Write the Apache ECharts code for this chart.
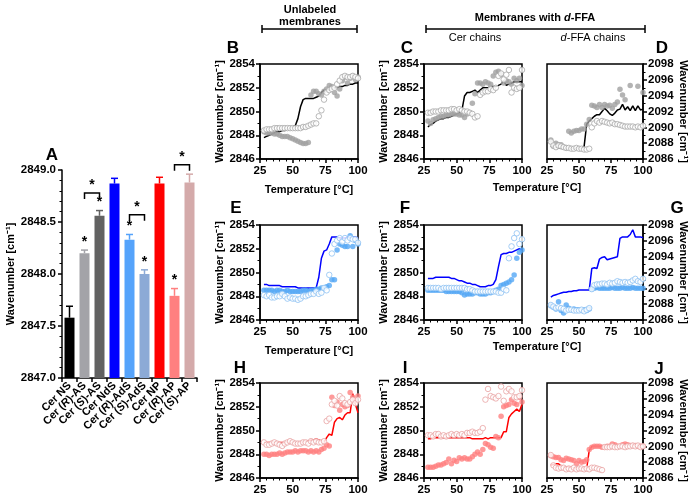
<!DOCTYPE html>
<html>
<head>
<meta charset="utf-8">
<script src="https://cdn.jsdelivr.net/npm/echarts@6/dist/echarts.min.js"></script>
<style>
html,body{margin:0;padding:0;background:#fff;}
#main{width:699px;height:503px;}
</style>
</head>
<body>
<div id="main"></div>
<script>
var FONT = 'Liberation Sans';

// ---- panel A (bars) ----
var barCats = ['Cer NS', 'Cer (R)-AS', 'Cer (S)-AS', 'Cer NdS', 'Cer (R)-AdS', 'Cer (S)-AdS', 'Cer NP', 'Cer (R)-AP', 'Cer (S)-AP'];
var barMeans = [2847.58, 2848.20, 2848.56, 2848.87, 2848.33, 2848.00, 2848.87, 2847.79, 2848.88];
var barErrs = [0.11, 0.03, 0.05, 0.05, 0.05, 0.04, 0.06, 0.07, 0.08];
var barStars = [0, 1, 1, 0, 1, 1, 0, 1, 0];
// [first bar, second bar, bracket height]
var brackets = [[1, 2, 2848.78], [4, 5, 2848.57], [7, 8, 2849.05]];
var barColors = ['#000000', '#a3a3a8', '#626262', '#0000ff', '#55a3fb', '#8caad6', '#ff0000', '#ff8080', '#d4aaaa'];

// ---- panels B-J (temperature scans) ----
var temps = [28, 30, 32, 34, 36, 38, 40, 42, 44, 46, 48, 50, 52, 54, 56, 58, 60, 62, 64, 66, 68, 70, 72, 74, 76, 78, 80, 82, 84, 86, 88, 90, 92, 94, 96, 98, 100];

var bLine = [2847.8, 2847.9, 2848.0, 2848.1, 2848.2, 2848.3, 2848.3, 2848.4, 2848.4, 2848.5, 2848.6, 2848.7, 2848.8, 2849.4, 2850.4, 2851.0, 2851.1, 2851.1, 2851.1, 2851.1, 2851.2, 2851.3, 2851.6, 2851.8, 2851.8, 2851.9, 2851.9, 2852.0, 2852.0, 2852.1, 2852.1, 2852.2, 2852.2, 2852.3, 2852.3, 2852.4, 2852.4];
var bFill = [2848.3, 2848.2, 2848.2, 2848.2, 2848.1, 2848.1, 2848.0, 2847.9, 2847.9, 2847.9, 2847.8, 2847.7, 2847.6, 2847.5, 2847.4, 2847.3, 2847.3, 2847.4, 2851.4, 2851.7, 2851.7, 2851.5, 2851.4, 2851.7, 2851.9, 2852.2, 2852.1, 2851.6, 2851.3, 2851.9, 2852.6, 2852.9, 2852.4, 2852.8, 2853.0, 2852.7, 2852.9];
var bOpen = [2848.4, 2848.5, 2848.5, 2848.5, 2848.6, 2848.6, 2848.6, 2848.6, 2848.6, 2848.6, 2848.6, 2848.6, 2848.6, 2848.6, 2848.6, 2848.7, 2848.7, 2848.8, 2848.9, 2849.0, 2849.0, 2849.6, 2850.1, 2851.0, 2851.6, 2851.8, 2851.9, 2852.0, 2852.3, 2852.6, 2852.9, 2853.0, 2852.9, 2852.9, 2853.0, 2852.9, 2852.8];

var cLine = [2848.7, 2848.9, 2849.0, 2849.2, 2849.3, 2849.4, 2849.4, 2849.5, 2849.5, 2849.6, 2849.7, 2849.8, 2849.9, 2850.1, 2851.3, 2851.6, 2851.6, 2851.7, 2851.8, 2851.6, 2851.8, 2852.0, 2852.0, 2852.0, 2852.1, 2852.1, 2852.1, 2852.2, 2852.3, 2852.6, 2852.2, 2852.3, 2852.4, 2852.5, 2852.5, 2852.5, 2852.5];
var cFill = [2849.2, 2849.0, 2849.3, 2849.4, 2849.5, 2849.6, 2849.6, 2849.7, 2849.7, 2849.8, 2849.8, 2849.8, 2849.7, 2849.7, 2849.5, 2849.8, 2849.9, 2850.7, 2851.5, 2852.4, 2852.4, 2852.3, 2852.5, 2852.4, 2852.3, 2853.0, 2853.3, 2853.4, 2853.1, 2852.4, 2852.6, 2852.5, 2852.3, 2852.8, 2852.6, 2852.8, 2852.2];
var cOpen = [2849.9, 2849.9, 2850.0, 2850.0, 2850.0, 2850.1, 2850.1, 2850.1, 2850.1, 2850.2, 2850.2, 2850.1, 2850.2, 2850.1, 2850.0, 2850.0, 2849.9, 2849.8, 2849.5, 2849.6, 2851.4, 2851.6, 2851.7, 2851.7, 2851.9, 2851.8, 2852.0, 2853.0, 2853.2, 2852.7, 2853.1, 2853.5, 2851.6, 2852.0, 2851.9, 2852.0, 2853.5];

var dLine = [2087.6, 2087.5, 2087.5, 2087.4, 2087.4, 2087.4, 2087.4, 2087.4, 2087.4, 2087.3, 2087.4, 2087.4, 2087.4, 2087.6, 2090.4, 2090.8, 2091.1, 2091.4, 2091.6, 2091.6, 2092.0, 2092.4, 2092.1, 2091.7, 2091.5, 2091.8, 2092.2, 2092.3, 2092.9, 2092.2, 2092.6, 2092.1, 2092.7, 2092.1, 2092.7, 2092.2, 2092.3];
var dFill = [2088.4, 2087.6, 2088.0, 2087.8, 2087.8, 2087.5, 2087.4, 2089.5, 2089.3, 2089.5, 2089.6, 2089.6, 2089.8, 2089.8, 2090.4, 2091.0, 2092.8, 2092.7, 2092.5, 2092.9, 2092.5, 2092.9, 2092.7, 2092.8, 2092.4, 2092.9, 2093.2, 2094.8, 2094.1, 2093.5, null, 2095.3, null, null, 2095.2, null, 2094.4];
var dOpen = [2088.2, 2087.7, 2087.5, 2087.7, 2087.6, 2087.5, 2087.4, 2087.4, 2087.3, 2087.3, 2087.4, 2087.3, 2087.3, 2087.2, 2087.2, 2087.3, 2090.0, 2090.5, 2090.8, 2090.6, 2090.8, 2090.7, 2090.6, 2090.5, 2090.6, 2090.4, 2090.4, 2090.3, 2090.2, 2090.1, 2090.1, 2090.1, 2090.1, 2090.0, 2090.1, 2090.0, 2090.2];

var eLine = [2849.0, 2849.0, 2848.9, 2848.9, 2848.9, 2848.9, 2848.9, 2848.8, 2848.8, 2848.8, 2848.8, 2848.8, 2848.8, 2848.7, 2848.7, 2848.7, 2848.7, 2848.7, 2848.7, 2848.7, 2848.7, 2849.6, 2851.2, 2851.8, 2851.9, 2852.4, 2853.0, 2853.0, 2853.0, 2852.9, 2852.9, 2852.9, 2853.0, 2852.9, 2853.0, 2853.0, 2852.9];
var eFill = [2848.5, 2848.5, 2848.5, 2848.5, 2848.4, 2848.5, 2848.5, 2848.4, 2848.4, 2848.5, 2848.4, 2848.4, 2848.4, 2848.4, 2848.4, 2848.5, 2848.5, 2848.4, 2848.5, 2848.5, 2848.6, 2848.6, 2848.7, 2848.7, 2848.8, 2848.9, 2849.4, 2849.4, 2851.9, 2852.4, 2852.3, 2852.2, 2852.2, 2853.1, 2852.2, 2852.7, 2852.4];
var eOpen = [2848.1, 2848.0, 2848.1, 2847.9, 2847.9, 2848.0, 2848.0, 2848.2, 2848.0, 2847.8, 2847.9, 2847.8, 2847.8, 2847.7, 2847.8, 2848.0, 2848.0, 2848.1, 2848.2, 2848.2, 2848.4, 2848.2, 2848.3, 2848.7, 2848.5, 2849.8, 2851.6, 2852.4, 2852.7, 2852.9, 2852.6, 2852.9, 2852.7, 2852.9, 2852.8, 2852.8, 2852.5];

var fLine = [2849.5, 2849.5, 2849.5, 2849.6, 2849.6, 2849.6, 2849.6, 2849.6, 2849.6, 2849.5, 2849.5, 2849.4, 2849.3, 2849.3, 2849.2, 2849.1, 2849.1, 2849.0, 2849.0, 2848.9, 2848.8, 2848.8, 2848.8, 2848.9, 2848.9, 2849.0, 2849.4, 2850.5, 2851.5, 2851.6, 2851.6, 2851.7, 2851.7, 2851.8, 2851.9, 2852.0, 2851.9];
var fFill = [2848.5, 2848.5, 2848.5, 2848.5, 2848.5, 2848.5, 2848.5, 2848.4, 2848.4, 2848.4, 2848.4, 2848.4, 2848.4, 2848.3, 2848.1, 2848.2, 2848.2, 2848.2, 2848.3, 2848.3, 2848.2, 2848.2, 2848.2, 2848.3, 2848.3, 2848.4, 2848.5, 2848.6, 2848.9, 2849.0, 2849.1, 2849.2, 2849.4, 2849.8, 2851.2, 2851.7, 2851.9];
var fOpen = [2848.7, 2848.7, 2848.7, 2848.7, 2848.7, 2848.6, 2848.7, 2848.7, 2848.7, 2848.7, 2848.7, 2848.7, 2848.7, 2848.7, 2848.7, 2848.6, 2848.6, 2848.5, 2848.4, 2848.4, 2848.4, 2848.4, 2848.4, 2848.4, 2848.4, 2848.4, 2848.4, 2848.3, 2848.3, 2848.6, 2848.5, 2851.2, 2852.2, 2852.9, 2853.3, 2852.4, 2852.8];

var gLine = [2088.9, 2089.1, 2089.2, 2089.3, 2089.4, 2089.5, 2089.5, 2089.6, 2089.6, 2089.7, 2089.7, 2089.8, 2089.8, 2089.8, 2089.8, 2089.8, 2092.5, 2092.6, 2092.5, 2093.7, 2093.9, 2094.0, 2093.6, 2093.7, 2093.8, 2093.9, 2094.0, 2096.3, 2096.5, 2096.5, 2096.5, 2096.8, 2097.4, 2096.5, 2096.5, 2096.5, 2096.4];
var gFill = [2087.8, 2087.6, 2087.4, 2088.3, 2087.2, 2086.9, 2087.9, 2087.5, 2087.3, 2087.4, 2087.3, 2087.3, 2087.2, 2087.3, 2087.2, 2087.4, 2089.9, 2090.0, 2090.1, 2090.0, 2090.0, 2090.0, 2090.0, 2090.0, 2090.1, 2090.0, 2090.0, 2090.0, 2090.1, 2090.0, 2090.0, 2090.0, 2090.1, 2090.0, 2090.0, 2090.0, 2090.0];
var gOpen = [2087.9, 2087.7, 2087.5, 2087.6, 2087.5, 2087.4, 2087.2, 2087.3, 2087.3, 2087.2, 2087.2, 2087.2, 2087.3, 2087.1, 2087.3, 2087.5, 2089.9, 2090.4, 2090.5, 2090.5, 2090.6, 2090.6, 2090.5, 2090.7, 2090.6, 2090.7, 2090.9, 2090.8, 2090.7, 2090.8, 2090.7, 2090.8, 2091.0, 2091.2, 2090.9, 2090.8, 2091.2];

var hLine = [2849.0, 2849.0, 2849.0, 2849.0, 2849.0, 2849.0, 2849.0, 2849.0, 2849.0, 2849.0, 2849.0, 2849.0, 2849.0, 2849.0, 2849.0, 2849.0, 2849.1, 2849.1, 2849.2, 2849.2, 2849.3, 2849.2, 2849.1, 2849.0, 2849.4, 2849.7, 2849.6, 2850.7, 2851.0, 2851.1, 2850.9, 2851.3, 2851.5, 2851.5, 2853.1, 2852.2, 2851.5];
var hFill = [2848.0, 2848.0, 2847.9, 2848.0, 2848.0, 2848.0, 2848.1, 2848.0, 2848.1, 2848.2, 2848.2, 2848.2, 2848.3, 2848.2, 2848.3, 2848.3, 2848.3, 2848.2, 2848.3, 2848.2, 2848.3, 2848.2, 2848.4, 2848.5, 2848.8, 2848.7, 2852.8, 2852.1, 2852.4, 2851.7, 2852.2, 2852.0, 2852.1, 2853.2, 2852.8, 2852.5, 2852.9];
var hOpen = [2849.0, 2848.8, 2848.8, 2848.9, 2849.0, 2848.9, 2848.8, 2848.7, 2848.9, 2849.0, 2849.1, 2849.0, 2848.9, 2848.9, 2848.9, 2849.0, 2849.0, 2848.9, 2849.1, 2849.0, 2849.1, 2849.0, 2849.0, 2849.1, 2850.8, 2851.0, 2852.2, 2852.5, 2852.1, 2852.9, 2852.7, 2852.3, 2852.2, 2852.4, 2852.6, 2852.3, 2852.6];

var iLine = [2849.3, 2849.3, 2849.4, 2849.4, 2849.4, 2849.4, 2849.4, 2849.4, 2849.4, 2849.4, 2849.4, 2849.4, 2849.4, 2849.4, 2849.4, 2849.4, 2849.4, 2849.3, 2849.3, 2849.3, 2849.3, 2849.3, 2849.4, 2849.3, 2849.4, 2849.4, 2849.4, 2849.4, 2849.4, 2849.9, 2849.9, 2851.1, 2851.4, 2851.6, 2851.8, 2851.6, 2852.2];
var iFill = [2846.9, 2846.9, 2846.9, 2847.0, 2847.1, 2847.1, 2847.2, 2847.3, 2847.6, 2847.2, 2847.5, 2847.4, 2847.7, 2847.6, 2847.7, 2847.6, 2847.6, 2847.8, 2848.0, 2848.2, 2848.0, 2848.4, 2848.9, 2848.8, 2848.6, 2848.5, 2849.5, 2849.4, 2851.2, 2852.0, 2852.1, 2852.2, 2852.6, 2852.3, 2852.2, 2852.8, 2852.4];
var iOpen = [2849.6, 2849.6, 2849.5, 2849.7, 2849.7, 2849.5, 2849.6, 2849.5, 2849.6, 2849.7, 2849.6, 2849.7, 2849.6, 2849.7, 2849.6, 2849.8, 2849.8, 2849.9, 2849.8, 2849.8, 2849.9, 2850.2, 2852.6, 2853.5, 2852.9, 2852.8, 2852.7, 2852.9, 2853.7, 2852.5, 2853.3, 2853.5, 2853.3, 2852.8, 2852.8, 2852.9, 2853.4];

var jLine = [2087.6, 2087.7, 2087.8, 2087.8, 2087.5, 2087.4, 2087.4, 2087.4, 2087.3, 2087.3, 2087.3, 2087.3, 2087.3, 2087.2, 2087.2, 2089.5, 2090.0, 2090.0, 2090.0, 2090.0, 2090.0, 2090.0, 2090.0, 2090.0, 2090.0, 2090.0, 2090.0, 2090.0, 2090.0, 2090.0, 2090.0, 2090.0, 2090.0, 2090.0, 2090.0, 2090.0, 2090.0];
var jFill = [2088.8, 2088.7, 2088.6, 2088.6, 2088.3, 2088.2, 2088.5, 2088.4, 2088.3, 2088.2, 2087.8, 2088.2, 2088.0, 2088.1, 2088.3, 2089.6, 2089.9, 2090.0, 2090.0, 2090.0, 2089.9, 2089.9, 2090.0, 2090.0, 2090.3, 2090.2, 2090.0, 2090.0, 2090.2, 2090.3, 2090.2, 2090.1, 2090.1, 2090.1, 2090.0, 2090.0, 2090.0];
var jOpen = [2088.9, 2087.6, 2087.3, 2087.2, 2087.3, 2087.3, 2087.1, 2087.2, 2087.1, 2087.3, 2087.1, 2087.2, 2087.2, 2087.1, 2087.2, 2087.1, 2087.3, 2087.3, 2087.2, 2087.1, 2087.0, 2089.9, 2089.9, 2089.9, 2090.0, 2089.9, 2089.9, 2090.0, 2090.0, 2089.9, 2090.0, 2090.0, 2090.1, 2090.0, 2090.1, 2089.9, 2090.0];

var schemes = {
  gray: { line: '#000000', fill: '#a0a0a0', open: '#a8a8a8' },
  blue: { line: '#0000ff', fill: '#55a8f5', open: '#8fc2f2' },
  red: { line: '#ff0000', fill: '#ff8080', open: '#e9a3a3' }
};

var panels = [
  { col: 0, row: 0, scheme: 'gray', line: bLine, fill: bFill, open: bOpen },
  { col: 1, row: 0, scheme: 'gray', line: cLine, fill: cFill, open: cOpen },
  { col: 2, row: 0, scheme: 'gray', line: dLine, fill: dFill, open: dOpen },
  { col: 0, row: 1, scheme: 'blue', line: eLine, fill: eFill, open: eOpen },
  { col: 1, row: 1, scheme: 'blue', line: fLine, fill: fFill, open: fOpen },
  { col: 2, row: 1, scheme: 'blue', line: gLine, fill: gFill, open: gOpen },
  { col: 0, row: 2, scheme: 'red', line: hLine, fill: hFill, open: hOpen },
  { col: 1, row: 2, scheme: 'red', line: iLine, fill: iFill, open: iOpen },
  { col: 2, row: 2, scheme: 'red', line: jLine, fill: jFill, open: jOpen }
];

var colLeft = [260, 424, 547], colW = [98, 98, 96];
var rowTop = [64, 225, 383], rowH = 95;

var axisLineStyle = { color: '#000', width: 1.5 };
var labelStyle = { color: '#000', fontWeight: 'bold', fontSize: 11.5, fontFamily: FONT };
var WN = 'Wavenumber [cm\u207B\u00B9]';

function pairs(arr) {
  var out = [];
  arr.forEach(function (v, i) { if (v != null) out.push([temps[i], v]); });
  return out;
}

var grids = [{ left: 62, top: 170, width: 135, height: 208 }];
var xAxes = [{
  type: 'category', gridIndex: 0, data: barCats,
  axisLine: { lineStyle: axisLineStyle },
  axisTick: { show: true, alignWithLabel: false, length: 4, lineStyle: { width: 1.5 } },
  axisLabel: {
    interval: 0, rotate: 45, margin: 6, color: '#000', fontWeight: 'bold', fontSize: 11, fontFamily: FONT,
    formatter: function (s) { return s.replace(/\((R|S)\)/, '({i|$1})'); },
    rich: { i: { fontStyle: 'italic', fontWeight: 'bold', fontSize: 11, fontFamily: FONT, color: '#000' } }
  }
}];
var yAxes = [{
  type: 'value', gridIndex: 0, min: 2847, max: 2849, interval: 0.5,
  axisLine: { show: true, lineStyle: axisLineStyle },
  axisTick: { show: true, length: 4, lineStyle: { width: 1.5 } },
  minorTick: { show: true, splitNumber: 5, length: 2.5, lineStyle: { color: '#000', width: 1 } },
  splitLine: { show: false },
  axisLabel: Object.assign({ margin: 6, formatter: function (v) { return v.toFixed(1); } }, labelStyle),
  name: WN, nameLocation: 'middle', nameGap: 38,
  nameTextStyle: { color: '#000', fontWeight: 'bold', fontSize: 11, fontFamily: FONT }
}];

var series = [
  {
    type: 'bar', xAxisIndex: 0, yAxisIndex: 0, barWidth: 10,
    data: barMeans.map(function (v, i) { return { value: v, itemStyle: { color: barColors[i] } }; })
  },
  {
    type: 'custom', xAxisIndex: 0, yAxisIndex: 0, clip: false, z: 5,
    data: barMeans.map(function (v, i) { return [i, v, barErrs[i], barStars[i]]; }),
    renderItem: function (params, api) {
      var i = api.value(0), v = api.value(1), e = api.value(2), s = api.value(3);
      var p0 = api.coord([i, v]), p1 = api.coord([i, v + e]);
      var c = barColors[i];
      var kids = [
        { type: 'line', shape: { x1: p0[0], y1: p0[1], x2: p1[0], y2: p1[1] }, style: { stroke: c, lineWidth: 1.5 } },
        { type: 'line', shape: { x1: p1[0] - 3.5, y1: p1[1], x2: p1[0] + 3.5, y2: p1[1] }, style: { stroke: c, lineWidth: 1.5 } }
      ];
      if (s) {
        kids.push({ type: 'text', style: { text: '*', x: p1[0], y: p1[1] - 1, align: 'center', verticalAlign: 'bottom', font: 'bold 14px ' + FONT, fill: '#000' } });
      }
      return { type: 'group', children: kids };
    }
  },
  {
    type: 'custom', xAxisIndex: 0, yAxisIndex: 0, clip: false, z: 5,
    encode: { x: 0, y: 2 },
    data: brackets,
    renderItem: function (params, api) {
      var a = api.coord([api.value(0), api.value(2)]), b = api.coord([api.value(1), api.value(2)]);
      var st = { stroke: '#000', lineWidth: 1.5, fill: null };
      return {
        type: 'group', children: [
          { type: 'polyline', shape: { points: [[a[0], a[1] + 6], [a[0], a[1]], [b[0], b[1]], [b[0], b[1] + 6]] }, style: st },
          { type: 'text', style: { text: '*', x: (a[0] + b[0]) / 2, y: a[1] - 1, align: 'center', verticalAlign: 'bottom', font: 'bold 14px ' + FONT, fill: '#000' } }
        ]
      };
    }
  }
];

panels.forEach(function (p, k) {
  var gi = k + 1;
  var right = p.col === 2;
  var sc = schemes[p.scheme];
  grids.push({
    left: colLeft[p.col], top: rowTop[p.row], width: colW[p.col], height: rowH,
    show: true, borderColor: '#000', borderWidth: 1.5, backgroundColor: 'transparent'
  });
  var xa = {
    type: 'value', gridIndex: gi, min: 25, max: 100, interval: 25,
    axisLine: { lineStyle: axisLineStyle },
    axisTick: { length: 4, lineStyle: { width: 1.5 } },
    minorTick: { show: true, splitNumber: 5, length: 2.5, lineStyle: { color: '#000', width: 1 } },
    splitLine: { show: false },
    axisLabel: Object.assign({ margin: 6 }, labelStyle)
  };
  if (p.col === 0 && p.row < 2) {
    xa.name = 'Temperature [\u00B0C]';
    xa.nameLocation = 'middle';
    xa.nameGap = 25;
    xa.nameTextStyle = { color: '#000', fontWeight: 'bold', fontSize: 11, fontFamily: FONT };
  }
  xAxes.push(xa);
  yAxes.push({
    type: 'value', gridIndex: gi, position: right ? 'right' : 'left',
    min: right ? 2086 : 2846, max: right ? 2098 : 2854, interval: 2,
    axisLine: { show: true, lineStyle: axisLineStyle },
    axisTick: { show: true, length: 4, lineStyle: { width: 1.5 } },
    minorTick: { show: true, splitNumber: 2, length: 2.5, lineStyle: { color: '#000', width: 1 } },
    splitLine: { show: false },
    axisLabel: Object.assign({ margin: 5, formatter: function (v) { return String(v); } }, labelStyle),
    name: WN, nameLocation: 'middle', nameGap: right ? 32 : 31, nameRotate: right ? -90 : 90,
    nameTextStyle: { color: '#000', fontWeight: 'bold', fontSize: 11, fontFamily: FONT }
  });
  series.push({
    type: 'line', xAxisIndex: gi, yAxisIndex: gi, data: pairs(p.line),
    symbol: 'none', lineStyle: { color: sc.line, width: 1.5 }, z: 2
  });
  series.push({
    type: 'scatter', xAxisIndex: gi, yAxisIndex: gi, data: pairs(p.fill),
    symbolSize: 5.5, itemStyle: { color: sc.fill }, z: 3
  });
  series.push({
    type: 'scatter', xAxisIndex: gi, yAxisIndex: gi, data: pairs(p.open),
    symbolSize: 5.5, itemStyle: { color: '#ffffff', borderColor: sc.open, borderWidth: 1 }, z: 4
  });
});

function txt(x, y, s, font, extra) {
  var st = { text: s, x: x, y: y, align: 'center', verticalAlign: 'middle', font: font, fill: '#000' };
  if (extra) Object.assign(st, extra);
  return { type: 'text', z: 10, style: st };
}
function seg(x1, y1, x2, y2) {
  return { type: 'line', z: 10, shape: { x1: x1, y1: y1, x2: x2, y2: y2 }, style: { stroke: '#000', lineWidth: 1.5 } };
}
var BIG = 'bold 17px ' + FONT;
var graphics = [
  txt(52, 155, 'A', BIG),
  txt(233, 48, 'B', BIG), txt(407, 48, 'C', BIG), txt(662, 48, 'D', BIG),
  txt(236, 208, 'E', BIG), txt(405, 208, 'F', BIG), txt(677, 208, 'G', BIG),
  txt(240, 368, 'H', BIG), txt(405, 368, 'I', BIG), txt(659, 369, 'J', BIG),
  txt(310, 10, 'Unlabeled', 'bold 11px ' + FONT),
  txt(310, 22, 'membranes', 'bold 11px ' + FONT),
  seg(262, 29, 357, 29), seg(262, 25, 262, 33), seg(357, 25, 357, 33),
  txt(535, 18, '{b|Membranes with }{bi|d}{b|-FFA}', 'bold 11px ' + FONT, {
    rich: { b: { fontWeight: 'bold', fontSize: 11, fontFamily: FONT }, bi: { fontWeight: 'bold', fontStyle: 'italic', fontSize: 11, fontFamily: FONT } }
  }),
  seg(426, 29, 645, 29), seg(426, 25, 426, 33), seg(645, 25, 645, 33),
  txt(475, 38, 'Cer chains', '11px ' + FONT),
  txt(593, 38, '{i|d}-FFA chains', '11px ' + FONT, { rich: { i: { fontStyle: 'italic', fontSize: 11, fontFamily: FONT } } }),
  txt(537, 188, 'Temperature [\u00B0C]', 'bold 11px ' + FONT),
  txt(537, 347, 'Temperature [\u00B0C]', 'bold 11px ' + FONT)
];

var chart = echarts.init(document.getElementById('main'));
chart.setOption({
  animation: false,
  textStyle: { fontFamily: FONT },
  grid: grids,
  xAxis: xAxes,
  yAxis: yAxes,
  series: series,
  graphic: graphics
});
</script>
</body>
</html>
